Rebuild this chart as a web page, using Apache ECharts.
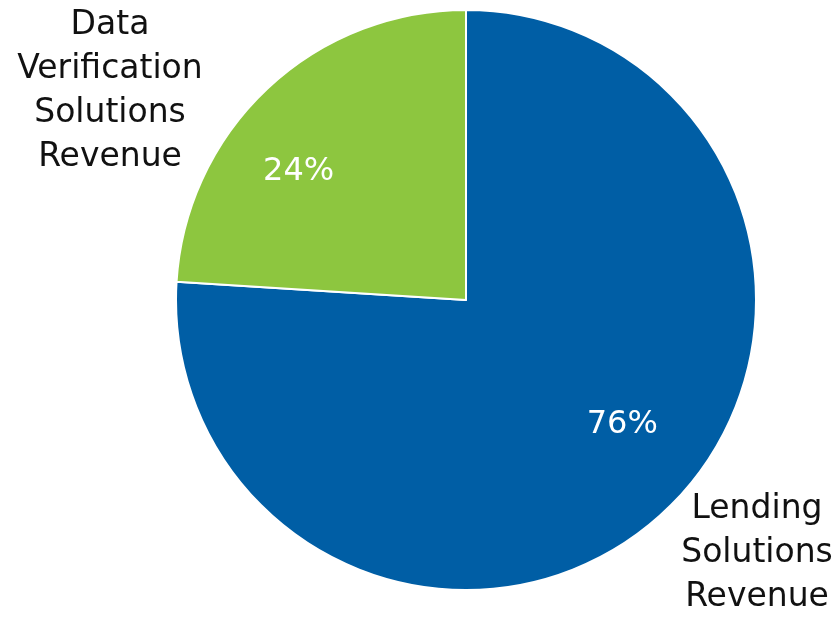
<!DOCTYPE html>
<html>
<head>
<meta charset="utf-8">
<script src="https://cdn.jsdelivr.net/npm/echarts@6/dist/echarts.min.js"></script>
<style>
  html, body { margin: 0; padding: 0; background: #fff; }
  #chart { width: 834px; height: 617px; }
</style>
</head>
<body>
<div id="chart"></div>
<script>
var categories = ['Lending Solutions Revenue', 'Data Verification Solutions Revenue'];
var shares = [76, 24];
var colors = ['#005ea5', '#8dc63f'];

var chart = echarts.init(document.getElementById('chart'));

// inside label nudges (the original puts % labels further out than the default)
var labelOffsets = [[55, 17], [-66, -20]];

var pieData = categories.map(function (name, i) {
    return {
        name: name,
        value: shares[i],
        itemStyle: { color: colors[i] },
        label: { offset: labelOffsets[i] }
    };
});

function wrapName(name) {
    return name.split(' ').join('\n');
}

var option = {
    animation: false,
    series: [{
        type: 'pie',
        center: [466, 300],
        radius: [0, 290],
        startAngle: 90,
        clockwise: true,
        silent: true,
        itemStyle: { borderColor: '#fff', borderWidth: 2 },
        label: {
            show: true,
            position: 'inside',
            color: '#fff',
            fontFamily: 'DejaVu Sans',
            fontSize: 32,
            formatter: function (p) { return p.value + '%'; }
        },
        labelLine: { show: false },
        data: pieData
    }],
    graphic: [{
        type: 'text',
        x: 110, y: 91,
        style: {
            text: wrapName(categories[1]),
            fill: '#111',
            font: '33px "DejaVu Sans"',
            align: 'center',
            verticalAlign: 'middle',
            lineHeight: 44
        }
    }, {
        type: 'text',
        x: 757, y: 553,
        style: {
            text: wrapName(categories[0]),
            fill: '#111',
            font: '33px "DejaVu Sans"',
            align: 'center',
            verticalAlign: 'middle',
            lineHeight: 44
        }
    }]
};

chart.setOption(option);
</script>
</body>
</html>
